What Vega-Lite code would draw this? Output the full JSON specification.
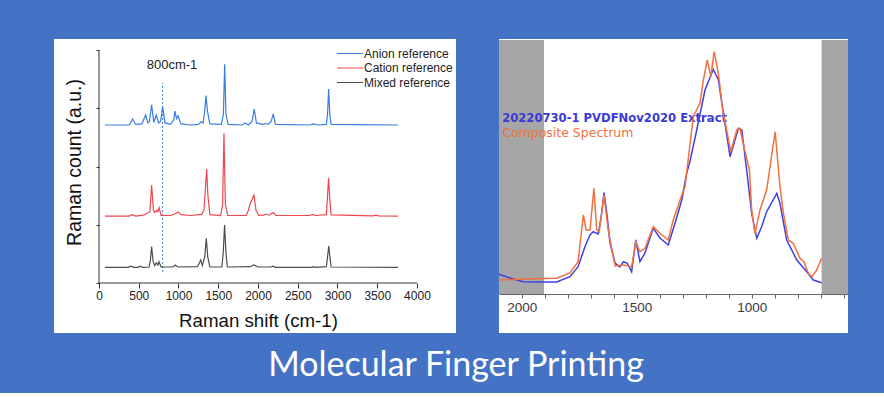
{
  "$schema": "https://vega.github.io/schema/vega-lite/v6.json",
  "background": "#4472C4",
  "padding": {"left": 54, "top": 39, "right": 36, "bottom": 10},
  "autosize": {"type": "pad"},
  "spacing": 43,
  "bounds": "flush",
  "resolve": {"scale": {"color": "independent"}, "legend": {"color": "independent"}},
  "config": {
    "view": {"fill": "white", "stroke": null},
    "axis": {"grid": false, "labelFont": "Liberation Sans", "titleFont": "Liberation Sans", "labelOverlap": false, "labelBound": false, "labelFlush": false}
  },
  "title": {"text": "Molecular Finger Printing", "orient": "bottom", "anchor": "middle", "color": "white", "font": "Lato", "fontSize": 34, "fontWeight": "normal", "baseline": "alphabetic", "offset": 43, "dx": 5},
  "datasets": {
    "axes": [
      {"x": 0, "x2": 4000, "y": 0, "y2": 0},
      {"x": 0, "x2": 0, "y": 0, "y2": 8}
    ],
    "marker": [{"x": 800, "y": 0.38, "y2": 6.87}],
    "markerText": [{"x": 918, "y": 7.49, "t": "800cm-1"}],
    "raman": [
      {"series": "Anion reference", "shift": 75, "count": 5.43},
      {"series": "Anion reference", "shift": 380, "count": 5.43},
      {"series": "Anion reference", "shift": 423, "count": 5.64},
      {"series": "Anion reference", "shift": 460, "count": 5.45},
      {"series": "Anion reference", "shift": 540, "count": 5.47},
      {"series": "Anion reference", "shift": 587, "count": 5.77},
      {"series": "Anion reference", "shift": 615, "count": 5.5},
      {"series": "Anion reference", "shift": 635, "count": 5.55},
      {"series": "Anion reference", "shift": 662, "count": 6.12},
      {"series": "Anion reference", "shift": 690, "count": 5.52},
      {"series": "Anion reference", "shift": 720, "count": 5.77},
      {"series": "Anion reference", "shift": 750, "count": 5.5},
      {"series": "Anion reference", "shift": 775, "count": 5.55},
      {"series": "Anion reference", "shift": 801, "count": 6.05},
      {"series": "Anion reference", "shift": 830, "count": 5.5},
      {"series": "Anion reference", "shift": 900, "count": 5.45},
      {"series": "Anion reference", "shift": 940, "count": 5.6},
      {"series": "Anion reference", "shift": 956, "count": 5.91},
      {"series": "Anion reference", "shift": 975, "count": 5.65},
      {"series": "Anion reference", "shift": 995, "count": 5.74},
      {"series": "Anion reference", "shift": 1030, "count": 5.47},
      {"series": "Anion reference", "shift": 1150, "count": 5.43},
      {"series": "Anion reference", "shift": 1250, "count": 5.45},
      {"series": "Anion reference", "shift": 1285, "count": 5.54},
      {"series": "Anion reference", "shift": 1310, "count": 5.5},
      {"series": "Anion reference", "shift": 1330, "count": 5.9},
      {"series": "Anion reference", "shift": 1346, "count": 6.44},
      {"series": "Anion reference", "shift": 1365, "count": 5.9},
      {"series": "Anion reference", "shift": 1395, "count": 5.47},
      {"series": "Anion reference", "shift": 1540, "count": 5.45},
      {"series": "Anion reference", "shift": 1565, "count": 5.8},
      {"series": "Anion reference", "shift": 1581, "count": 7.52},
      {"series": "Anion reference", "shift": 1597, "count": 5.8},
      {"series": "Anion reference", "shift": 1625, "count": 5.45},
      {"series": "Anion reference", "shift": 1800, "count": 5.43},
      {"series": "Anion reference", "shift": 1837, "count": 5.5},
      {"series": "Anion reference", "shift": 1880, "count": 5.43},
      {"series": "Anion reference", "shift": 1925, "count": 5.55},
      {"series": "Anion reference", "shift": 1953, "count": 5.98},
      {"series": "Anion reference", "shift": 1980, "count": 5.5},
      {"series": "Anion reference", "shift": 2060, "count": 5.45},
      {"series": "Anion reference", "shift": 2096, "count": 5.48},
      {"series": "Anion reference", "shift": 2130, "count": 5.45},
      {"series": "Anion reference", "shift": 2165, "count": 5.55},
      {"series": "Anion reference", "shift": 2193, "count": 5.81},
      {"series": "Anion reference", "shift": 2220, "count": 5.45},
      {"series": "Anion reference", "shift": 2650, "count": 5.43},
      {"series": "Anion reference", "shift": 2700, "count": 5.47},
      {"series": "Anion reference", "shift": 2750, "count": 5.43},
      {"series": "Anion reference", "shift": 2860, "count": 5.45},
      {"series": "Anion reference", "shift": 2875, "count": 5.8},
      {"series": "Anion reference", "shift": 2889, "count": 6.67},
      {"series": "Anion reference", "shift": 2903, "count": 5.8},
      {"series": "Anion reference", "shift": 2920, "count": 5.45},
      {"series": "Anion reference", "shift": 3200, "count": 5.44},
      {"series": "Anion reference", "shift": 3761, "count": 5.43},

      {"series": "Cation reference", "shift": 75, "count": 2.3},
      {"series": "Cation reference", "shift": 380, "count": 2.3},
      {"series": "Cation reference", "shift": 420, "count": 2.35},
      {"series": "Cation reference", "shift": 460, "count": 2.3},
      {"series": "Cation reference", "shift": 560, "count": 2.33},
      {"series": "Cation reference", "shift": 610, "count": 2.4},
      {"series": "Cation reference", "shift": 640, "count": 2.45},
      {"series": "Cation reference", "shift": 662, "count": 3.37},
      {"series": "Cation reference", "shift": 685, "count": 2.5},
      {"series": "Cation reference", "shift": 700, "count": 2.42},
      {"series": "Cation reference", "shift": 725, "count": 2.5},
      {"series": "Cation reference", "shift": 740, "count": 2.45},
      {"series": "Cation reference", "shift": 756, "count": 2.59},
      {"series": "Cation reference", "shift": 780, "count": 2.32},
      {"series": "Cation reference", "shift": 900, "count": 2.32},
      {"series": "Cation reference", "shift": 960, "count": 2.38},
      {"series": "Cation reference", "shift": 995, "count": 2.44},
      {"series": "Cation reference", "shift": 1030, "count": 2.35},
      {"series": "Cation reference", "shift": 1150, "count": 2.32},
      {"series": "Cation reference", "shift": 1290, "count": 2.36},
      {"series": "Cation reference", "shift": 1320, "count": 2.5},
      {"series": "Cation reference", "shift": 1340, "count": 3.3},
      {"series": "Cation reference", "shift": 1354, "count": 3.92},
      {"series": "Cation reference", "shift": 1370, "count": 3.0},
      {"series": "Cation reference", "shift": 1395, "count": 2.35},
      {"series": "Cation reference", "shift": 1530, "count": 2.32},
      {"series": "Cation reference", "shift": 1555, "count": 2.7},
      {"series": "Cation reference", "shift": 1572, "count": 5.15},
      {"series": "Cation reference", "shift": 1590, "count": 2.7},
      {"series": "Cation reference", "shift": 1620, "count": 2.32},
      {"series": "Cation reference", "shift": 1850, "count": 2.32},
      {"series": "Cation reference", "shift": 1880, "count": 2.5},
      {"series": "Cation reference", "shift": 1905, "count": 2.75},
      {"series": "Cation reference", "shift": 1950, "count": 3.02},
      {"series": "Cation reference", "shift": 1975, "count": 2.5},
      {"series": "Cation reference", "shift": 2010, "count": 2.32},
      {"series": "Cation reference", "shift": 2070, "count": 2.33},
      {"series": "Cation reference", "shift": 2100, "count": 2.37},
      {"series": "Cation reference", "shift": 2140, "count": 2.33},
      {"series": "Cation reference", "shift": 2190, "count": 2.42},
      {"series": "Cation reference", "shift": 2225, "count": 2.32},
      {"series": "Cation reference", "shift": 2650, "count": 2.32},
      {"series": "Cation reference", "shift": 2687, "count": 2.36},
      {"series": "Cation reference", "shift": 2720, "count": 2.32},
      {"series": "Cation reference", "shift": 2860, "count": 2.35},
      {"series": "Cation reference", "shift": 2873, "count": 2.9},
      {"series": "Cation reference", "shift": 2888, "count": 3.61},
      {"series": "Cation reference", "shift": 2903, "count": 2.9},
      {"series": "Cation reference", "shift": 2920, "count": 2.34},
      {"series": "Cation reference", "shift": 3450, "count": 2.31},
      {"series": "Cation reference", "shift": 3483, "count": 2.33},
      {"series": "Cation reference", "shift": 3520, "count": 2.31},
      {"series": "Cation reference", "shift": 3761, "count": 2.3},

      {"series": "Mixed reference", "shift": 75, "count": 0.54},
      {"series": "Mixed reference", "shift": 370, "count": 0.54},
      {"series": "Mixed reference", "shift": 400, "count": 0.58},
      {"series": "Mixed reference", "shift": 440, "count": 0.54},
      {"series": "Mixed reference", "shift": 490, "count": 0.54},
      {"series": "Mixed reference", "shift": 520, "count": 0.58},
      {"series": "Mixed reference", "shift": 550, "count": 0.54},
      {"series": "Mixed reference", "shift": 630, "count": 0.55},
      {"series": "Mixed reference", "shift": 645, "count": 0.75},
      {"series": "Mixed reference", "shift": 662, "count": 1.25},
      {"series": "Mixed reference", "shift": 680, "count": 0.75},
      {"series": "Mixed reference", "shift": 700, "count": 0.6},
      {"series": "Mixed reference", "shift": 720, "count": 0.69},
      {"series": "Mixed reference", "shift": 740, "count": 0.62},
      {"series": "Mixed reference", "shift": 755, "count": 0.73},
      {"series": "Mixed reference", "shift": 780, "count": 0.55},
      {"series": "Mixed reference", "shift": 930, "count": 0.55},
      {"series": "Mixed reference", "shift": 960, "count": 0.62},
      {"series": "Mixed reference", "shift": 990, "count": 0.55},
      {"series": "Mixed reference", "shift": 1240, "count": 0.56},
      {"series": "Mixed reference", "shift": 1280, "count": 0.79},
      {"series": "Mixed reference", "shift": 1300, "count": 0.6},
      {"series": "Mixed reference", "shift": 1330, "count": 0.9},
      {"series": "Mixed reference", "shift": 1350, "count": 1.54},
      {"series": "Mixed reference", "shift": 1368, "count": 0.9},
      {"series": "Mixed reference", "shift": 1395, "count": 0.55},
      {"series": "Mixed reference", "shift": 1545, "count": 0.55},
      {"series": "Mixed reference", "shift": 1562, "count": 1.0},
      {"series": "Mixed reference", "shift": 1580, "count": 1.99},
      {"series": "Mixed reference", "shift": 1598, "count": 1.0},
      {"series": "Mixed reference", "shift": 1615, "count": 0.55},
      {"series": "Mixed reference", "shift": 1900, "count": 0.56},
      {"series": "Mixed reference", "shift": 1950, "count": 0.62},
      {"series": "Mixed reference", "shift": 2000, "count": 0.55},
      {"series": "Mixed reference", "shift": 2160, "count": 0.55},
      {"series": "Mixed reference", "shift": 2190, "count": 0.58},
      {"series": "Mixed reference", "shift": 2220, "count": 0.54},
      {"series": "Mixed reference", "shift": 2680, "count": 0.54},
      {"series": "Mixed reference", "shift": 2700, "count": 0.56},
      {"series": "Mixed reference", "shift": 2720, "count": 0.54},
      {"series": "Mixed reference", "shift": 2860, "count": 0.56},
      {"series": "Mixed reference", "shift": 2875, "count": 0.9},
      {"series": "Mixed reference", "shift": 2890, "count": 1.27},
      {"series": "Mixed reference", "shift": 2905, "count": 0.9},
      {"series": "Mixed reference", "shift": 2920, "count": 0.55},
      {"series": "Mixed reference", "shift": 3761, "count": 0.54}
    ],
    "bands": [
      {"from": 2098.7, "to": 1903, "low": 39, "high": 293},
      {"from": 696, "to": 581.3, "low": 39, "high": 293}
    ],
    "label1": [{"w": 2085, "I": 213.7, "t": "20220730-1 PVDFNov2020 Extract"}],
    "label2": [{"w": 2085, "I": 199.7, "t": "Composite Spectrum"}],
    "ftir": [
      {"s": "Extract", "w": 2098.7, "I": 58.7},
      {"s": "Extract", "w": 2050, "I": 55},
      {"s": "Extract", "w": 1994, "I": 51.3},
      {"s": "Extract", "w": 1920, "I": 51},
      {"s": "Extract", "w": 1848, "I": 51},
      {"s": "Extract", "w": 1790, "I": 56.3},
      {"s": "Extract", "w": 1755, "I": 66.3},
      {"s": "Extract", "w": 1725, "I": 86.3},
      {"s": "Extract", "w": 1703, "I": 98},
      {"s": "Extract", "w": 1689, "I": 101.3},
      {"s": "Extract", "w": 1667, "I": 99},
      {"s": "Extract", "w": 1652, "I": 120},
      {"s": "Extract", "w": 1642, "I": 140.3},
      {"s": "Extract", "w": 1630, "I": 120},
      {"s": "Extract", "w": 1616, "I": 90},
      {"s": "Extract", "w": 1594, "I": 70},
      {"s": "Extract", "w": 1573, "I": 66},
      {"s": "Extract", "w": 1558, "I": 71.3},
      {"s": "Extract", "w": 1542, "I": 70},
      {"s": "Extract", "w": 1522, "I": 61.3},
      {"s": "Extract", "w": 1504, "I": 93},
      {"s": "Extract", "w": 1486, "I": 71.3},
      {"s": "Extract", "w": 1464, "I": 80},
      {"s": "Extract", "w": 1428, "I": 104.7},
      {"s": "Extract", "w": 1399, "I": 95},
      {"s": "Extract", "w": 1363, "I": 88},
      {"s": "Extract", "w": 1333, "I": 110},
      {"s": "Extract", "w": 1304, "I": 133},
      {"s": "Extract", "w": 1283, "I": 159.7},
      {"s": "Extract", "w": 1268, "I": 172},
      {"s": "Extract", "w": 1239, "I": 203},
      {"s": "Extract", "w": 1203, "I": 243},
      {"s": "Extract", "w": 1167, "I": 263.7},
      {"s": "Extract", "w": 1145, "I": 253},
      {"s": "Extract", "w": 1123, "I": 219.7},
      {"s": "Extract", "w": 1094, "I": 176.3},
      {"s": "Extract", "w": 1058, "I": 204.7},
      {"s": "Extract", "w": 1043, "I": 203},
      {"s": "Extract", "w": 1022, "I": 163},
      {"s": "Extract", "w": 1000, "I": 119.7},
      {"s": "Extract", "w": 978, "I": 94.7},
      {"s": "Extract", "w": 957, "I": 106.3},
      {"s": "Extract", "w": 935, "I": 121.3},
      {"s": "Extract", "w": 891, "I": 139.7},
      {"s": "Extract", "w": 877, "I": 129.7},
      {"s": "Extract", "w": 848, "I": 93},
      {"s": "Extract", "w": 804, "I": 73},
      {"s": "Extract", "w": 761, "I": 61.3},
      {"s": "Extract", "w": 732, "I": 53},
      {"s": "Extract", "w": 696, "I": 50.3},

      {"s": "Composite", "w": 2098.7, "I": 53},
      {"s": "Composite", "w": 1994, "I": 54},
      {"s": "Composite", "w": 1848, "I": 54.7},
      {"s": "Composite", "w": 1790, "I": 60},
      {"s": "Composite", "w": 1755, "I": 71.3},
      {"s": "Composite", "w": 1732, "I": 118},
      {"s": "Composite", "w": 1720, "I": 103},
      {"s": "Composite", "w": 1703, "I": 103},
      {"s": "Composite", "w": 1686, "I": 144.7},
      {"s": "Composite", "w": 1674, "I": 103},
      {"s": "Composite", "w": 1663, "I": 101.3},
      {"s": "Composite", "w": 1642, "I": 138},
      {"s": "Composite", "w": 1624, "I": 103},
      {"s": "Composite", "w": 1594, "I": 67},
      {"s": "Composite", "w": 1558, "I": 68},
      {"s": "Composite", "w": 1522, "I": 66.3},
      {"s": "Composite", "w": 1504, "I": 91.3},
      {"s": "Composite", "w": 1486, "I": 81.3},
      {"s": "Composite", "w": 1464, "I": 84.7},
      {"s": "Composite", "w": 1428, "I": 106.3},
      {"s": "Composite", "w": 1399, "I": 99.7},
      {"s": "Composite", "w": 1363, "I": 93},
      {"s": "Composite", "w": 1341, "I": 113},
      {"s": "Composite", "w": 1304, "I": 138},
      {"s": "Composite", "w": 1290, "I": 146.3},
      {"s": "Composite", "w": 1254, "I": 216.3},
      {"s": "Composite", "w": 1225, "I": 229.7},
      {"s": "Composite", "w": 1210, "I": 253},
      {"s": "Composite", "w": 1193, "I": 273},
      {"s": "Composite", "w": 1178, "I": 256.3},
      {"s": "Composite", "w": 1163, "I": 281.3},
      {"s": "Composite", "w": 1145, "I": 259.7},
      {"s": "Composite", "w": 1126, "I": 223},
      {"s": "Composite", "w": 1109, "I": 203},
      {"s": "Composite", "w": 1091, "I": 181.3},
      {"s": "Composite", "w": 1065, "I": 203},
      {"s": "Composite", "w": 1051, "I": 204.7},
      {"s": "Composite", "w": 1037, "I": 189.7},
      {"s": "Composite", "w": 1010, "I": 163},
      {"s": "Composite", "w": 1000, "I": 123},
      {"s": "Composite", "w": 986, "I": 99.7},
      {"s": "Composite", "w": 964, "I": 123},
      {"s": "Composite", "w": 935, "I": 143},
      {"s": "Composite", "w": 916, "I": 173},
      {"s": "Composite", "w": 898, "I": 201.3},
      {"s": "Composite", "w": 877, "I": 146.3},
      {"s": "Composite", "w": 862, "I": 119.7},
      {"s": "Composite", "w": 841, "I": 93},
      {"s": "Composite", "w": 819, "I": 89.7},
      {"s": "Composite", "w": 790, "I": 74.7},
      {"s": "Composite", "w": 773, "I": 71.3},
      {"s": "Composite", "w": 754, "I": 59.7},
      {"s": "Composite", "w": 739, "I": 56.3},
      {"s": "Composite", "w": 717, "I": 63},
      {"s": "Composite", "w": 696, "I": 74.7}
    ]
  },
  "hconcat": [
    {
      "width": 402,
      "height": 294,
      "layer": [
        {
          "data": {"name": "axes"},
          "mark": {"type": "rule", "color": "#333333", "strokeWidth": 1},
          "encoding": {
            "x": {
              "field": "x", "type": "quantitative",
              "scale": {"domain": [-566, 4491], "nice": false, "zero": false},
              "axis": {
                "values": [0, 250, 500, 750, 1000, 1250, 1500, 1750, 2000, 2250, 2500, 2750, 3000, 3250, 3500, 3750, 4000],
                "format": "d",
                "labelExpr": "datum.value % 500 === 0 ? datum.label : ''",
                "offset": -50,
                "domain": false,
                "tickColor": "#333333",
                "tickSize": {"condition": {"test": "datum.value % 500 === 0", "value": 5}, "value": 3},
                "labelFontSize": 12,
                "labelColor": "#222222",
                "labelPadding": 2,
                "title": "Raman shift (cm-1)",
                "titleFontSize": 18.7,
                "titleFontWeight": "normal",
                "titleColor": "#111111",
                "titlePadding": 10,
                "titleX": 204
              }
            },
            "x2": {"field": "x2"},
            "y": {
              "field": "y", "type": "quantitative",
              "scale": {"domain": [-1.718, 8.385], "nice": false, "zero": false},
              "axis": {
                "values": [0, 0.5, 1, 1.5, 2, 2.5, 3, 3.5, 4, 4.5, 5, 5.5, 6, 6.5, 7, 7.5, 8],
                "labels": false,
                "offset": -45,
                "domain": false,
                "tickColor": "#333333",
                "tickSize": {"condition": {"test": "datum.value % 1 !== 0", "value": 5}, "value": 3},
                "title": "Raman count (a.u.)",
                "titleFontSize": 19.5,
                "titleFontWeight": "normal",
                "titleColor": "#111111",
                "titlePadding": 11,
                "titleY": 123
              }
            },
            "y2": {"field": "y2"}
          }
        },
        {
          "data": {"name": "marker"},
          "mark": {"type": "rule", "color": "#3a7de0", "strokeWidth": 1, "strokeDash": [2, 2]},
          "encoding": {
            "x": {"field": "x", "type": "quantitative"},
            "y": {"field": "y", "type": "quantitative"},
            "y2": {"field": "y2"}
          }
        },
        {
          "data": {"name": "markerText"},
          "mark": {"type": "text", "font": "Liberation Sans", "fontSize": 13, "color": "#222222", "align": "center", "baseline": "middle"},
          "encoding": {
            "x": {"field": "x", "type": "quantitative"},
            "y": {"field": "y", "type": "quantitative"},
            "text": {"field": "t"}
          }
        },
        {
          "data": {"name": "raman"},
          "mark": {"type": "line", "strokeWidth": 1.2},
          "encoding": {
            "x": {"field": "shift", "type": "quantitative"},
            "y": {"field": "count", "type": "quantitative"},
            "color": {
              "field": "series", "type": "nominal",
              "scale": {"domain": ["Anion reference", "Cation reference", "Mixed reference"], "range": ["#3a7de0", "#f0464e", "#4d4d4d"]},
              "legend": {
                "orient": "none", "legendX": 282, "legendY": 8.5,
                "title": null, "padding": 0,
                "symbolType": "stroke", "symbolSize": 676, "symbolStrokeWidth": 1.2,
                "labelFont": "Liberation Sans", "labelFontSize": 12, "labelColor": "#222222",
                "labelOffset": 0, "clipHeight": 12, "rowPadding": 2.5
              }
            }
          }
        }
      ]
    },
    {
      "width": 349,
      "height": 294,
      "resolve": {"axis": {"x": "independent"}},
      "layer": [
        {
          "data": {"name": "bands"},
          "mark": {"type": "rect", "color": "#a6a6a6"},
          "encoding": {
            "x": {
              "field": "from", "type": "quantitative",
              "scale": {"domain": [581.3, 2098.7], "reverse": true, "nice": false, "zero": false},
              "axis": {
                "orient": "bottom",
                "values": [1000, 1500, 2000],
                "format": "d",
                "offset": -39,
                "zindex": 1,
                "domainColor": "#666666",
                "tickColor": "#666666",
                "tickSize": 4,
                "labelFont": "Liberation Sans",
                "labelFontSize": 13.5,
                "labelColor": "#3a3a3a",
                "labelPadding": 2,
                "title": null
              }
            },
            "x2": {"field": "to"},
            "y": {"field": "low", "type": "quantitative", "scale": {"domain": [0, 294], "nice": false, "zero": false}, "axis": null},
            "y2": {"field": "high"}
          }
        },
        {
          "data": {"name": "label1"},
          "mark": {"type": "text", "font": "DejaVu Sans", "fontSize": 11.6, "fontWeight": "bold", "color": "#3a3ad6", "align": "left", "baseline": "middle"},
          "encoding": {
            "x": {
              "field": "w", "type": "quantitative",
              "axis": {
                "orient": "bottom",
                "values": [600, 700, 800, 900, 1100, 1200, 1300, 1400, 1600, 1700, 1800, 1900],
                "labels": false,
                "domain": false,
                "offset": -39,
                "zindex": 1,
                "tickColor": "#666666",
                "tickSize": 4,
                "title": null
              }
            },
            "y": {"field": "I", "type": "quantitative", "axis": null},
            "text": {"field": "t"}
          }
        },
        {
          "data": {"name": "label2"},
          "mark": {"type": "text", "font": "DejaVu Sans", "fontSize": 12.5, "color": "#f07040", "align": "left", "baseline": "middle"},
          "encoding": {
            "x": {"field": "w", "type": "quantitative", "axis": null},
            "y": {"field": "I", "type": "quantitative", "axis": null},
            "text": {"field": "t"}
          }
        },
        {
          "data": {"name": "ftir"},
          "mark": {"type": "line", "strokeWidth": 1.5},
          "encoding": {
            "x": {"field": "w", "type": "quantitative", "axis": null},
            "y": {"field": "I", "type": "quantitative", "axis": null},
            "color": {
              "field": "s", "type": "nominal",
              "scale": {"domain": ["Extract", "Composite"], "range": ["#4040e0", "#f4703e"]},
              "legend": null
            },
            "order": {"field": "w", "sort": "descending"}
          }
        }
      ]
    }
  ]
}
